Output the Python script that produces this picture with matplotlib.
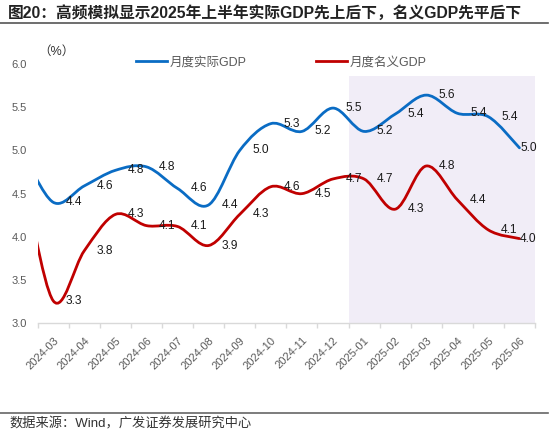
import matplotlib
matplotlib.use("Agg")
import matplotlib.pyplot as plt
import numpy as np
from matplotlib.path import Path
from matplotlib.patches import PathPatch
from matplotlib.lines import Line2D

plt.rcParams['font.family'] = ['Liberation Sans', 'Noto Sans CJK SC', 'DejaVu Sans']

# ---------------- data ----------------
months = ['2024-03', '2024-04', '2024-05', '2024-06', '2024-07', '2024-08',
          '2024-09', '2024-10', '2024-11', '2024-12', '2025-01', '2025-02',
          '2025-03', '2025-04', '2025-05', '2025-06']
# value of the month before the first category (2024-02), only partly visible
real_prev = 5.00
nominal_prev = 4.81
real_gdp = [4.40, 4.59, 4.77, 4.81, 4.56, 4.37, 5.00, 5.31, 5.22, 5.49,
            5.22, 5.42, 5.64, 5.43, 5.39, 5.03]
nominal_gdp = [3.26, 3.84, 4.26, 4.13, 4.12, 3.90, 4.26, 4.58, 4.50, 4.67,
               4.67, 4.32, 4.82, 4.43, 4.08, 3.98]
series_names = ['月度实际GDP', '月度名义GDP']
highlight_start = '2025-01'
highlight_top = 5.86

title = '图20：高频模拟显示2025年上半年实际GDP先上后下，名义GDP先平后下'
source = '数据来源：Wind，广发证券发展研究中心'
unit = '（%）'

BLUE = '#0A6CC4'
RED = '#C00000'


def smooth_path(xs, ys):
    """Smoothed line (like a spreadsheet 'smoothed line') as cubic Bezier path."""
    pts = np.column_stack([xs, ys]).astype(float)
    n = len(pts)
    verts = [pts[0]]
    codes = [Path.MOVETO]
    for i in range(n - 1):
        p0 = pts[i - 1] if i > 0 else pts[i]
        p1 = pts[i]
        p2 = pts[i + 1]
        p3 = pts[i + 2] if i + 2 < n else pts[i + 1]
        c1 = p1 + (p2 - p0) / 6.0
        c2 = p2 - (p3 - p1) / 6.0
        verts += [c1, c2, p2]
        codes += [Path.CURVE4] * 3
    return Path(verts, codes)


W, H = 550, 433
fig = plt.figure(figsize=(W / 100, H / 100), dpi=100)
ax_left, ax_right, ax_bottom, ax_top = 37.7, 535.0, 323.3, 64.0
ax = fig.add_axes([ax_left / W, 1 - ax_bottom / H,
                   (ax_right - ax_left) / W, (ax_bottom - ax_top) / H])

x = np.arange(len(months))
ax.set_xlim(-0.5, len(months) - 0.5)
ax.set_ylim(3.0, 6.0)

# highlighted period
hs = months.index(highlight_start) - 0.5
ax.axvspan(hs, len(months) - 0.5, ymin=0, ymax=(highlight_top - 3.0) / 3.0,
           color='#F1EDF7', lw=0, zorder=0)

for prev, vals, col in [(real_prev, real_gdp, BLUE), (nominal_prev, nominal_gdp, RED)]:
    xs = np.concatenate([[-1], x])
    ys = np.concatenate([[prev], vals])
    patch = PathPatch(smooth_path(xs, ys), fill=False, edgecolor=col, lw=2.0,
                      capstyle='round', joinstyle='round', zorder=3)
    ax.add_patch(patch)
    for i, v in enumerate(vals):
        dx = 21 if i < len(vals) - 1 else 9
        ax.annotate(f'{v:.1f}', xy=(x[i], v), xytext=(dx, 0),
                    textcoords='offset pixels', ha='center', va='center',
                    fontsize=8.6, color='#1a1a1a', zorder=4)

# axes styling
for s in ['left', 'top', 'right']:
    ax.spines[s].set_visible(False)
ax.spines['bottom'].set_color('#D9D9D9')
ax.spines['bottom'].set_linewidth(1.0)

ax.set_yticks(np.arange(3.0, 6.01, 0.5))
ax.set_yticklabels([f'{t:.1f}' for t in np.arange(3.0, 6.01, 0.5)])
ax.tick_params(axis='y', length=0, pad=8, labelsize=8, labelcolor='#595959')

ax.set_xticks(x)
ax.set_xticklabels(months, rotation=45, ha='right', rotation_mode='anchor')
ax.tick_params(axis='x', which='major', length=0, pad=8.5, labelsize=8,
               labelcolor='#595959')
ax.set_xticks(np.arange(-0.5, len(months)), minor=True)
ax.tick_params(axis='x', which='minor', length=3.5, width=1.0, color='#D9D9D9')

# legend
handles = [Line2D([], [], color=BLUE, lw=2.0), Line2D([], [], color=RED, lw=2.0)]
ax.legend(handles, series_names, loc='center left',
          bbox_to_anchor=(136 / W, 1 - 62.3 / H), bbox_transform=fig.transFigure,
          ncol=2, frameon=False, handlelength=2.5, handletextpad=0.15,
          columnspacing=5.6, borderpad=0, borderaxespad=0, fontsize=9,
          labelcolor='#595959')

# unit label
fig.text(56.7 / W, 1 - 51.7 / H, unit, ha='center', va='center', fontsize=9,
         color='#333333')

# title and frame lines
fig.text(8 / W, 1 - 12.5 / H, title, ha='left', va='center', fontsize=11.3,
         weight='bold', color='#222222')
fig.add_artist(Line2D([0, 548 / W], [1 - 23 / H, 1 - 23 / H],
                      transform=fig.transFigure, color='#555555', lw=1.2))
fig.add_artist(Line2D([0, 548 / W], [1 - 413 / H, 1 - 413 / H],
                      transform=fig.transFigure, color='#666666', lw=1.2))
fig.text(9 / W, 1 - 423.6 / H, source, ha='left', va='center', fontsize=9.5,
         color='#333333')

fig.savefig('out.png', dpi=100)
